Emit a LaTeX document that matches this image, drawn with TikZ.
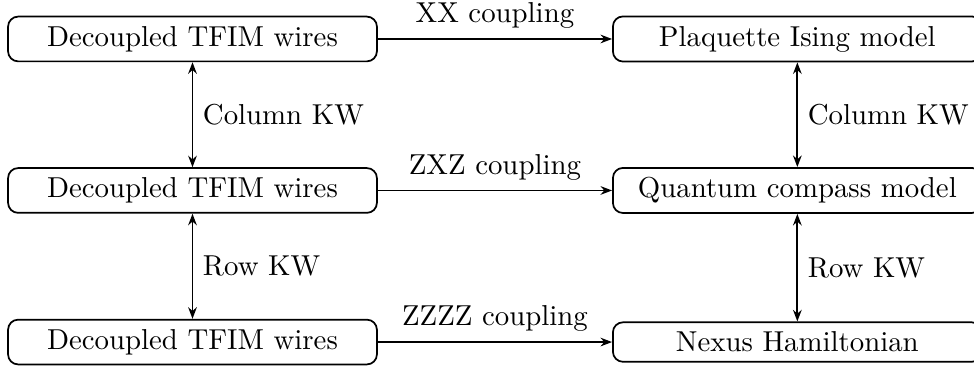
\documentclass[tikz,border=0pt]{standalone}
\usetikzlibrary{arrows.meta}
\begin{document}
\begin{tikzpicture}[x=1pt,y=1pt,
  box/.style={draw, semithick, rounded corners=3.5pt, minimum width=128pt, inner sep=3.33pt},
  conn/.style={semithick, -{Stealth[length=4pt,width=3pt]}},
  bconn/.style={semithick, {Stealth[length=4pt,width=3pt]}-{Stealth[length=4pt,width=3pt]}}]
\useasboundingbox (0,0) rectangle (338,-127.3);
\node[box] (l1) at (66.8,-13.53) {Decoupled TFIM wires};
\node[box] (l2) at (66.8,-66.1) {Decoupled TFIM wires};
\node[box] (l3) at (66.8,-118.7) {Decoupled TFIM wires};
\node[box] (r1) at (276.7,-13.53) {Plaquette Ising model};
\node[box] (r2) at (276.7,-66.1) {Quantum compass model};
\node[box] (r3) at (276.7,-118.7) {Nexus Hamiltonian};
\draw[conn] (l1.east) -- node[above] {XX coupling} (r1.west);
\draw[conn] (l2.east) -- node[above] {ZXZ coupling} (r2.west);
\draw[conn] (l3.east) -- node[above] {ZZZZ coupling} (r3.west);
\draw[bconn] (l1.south) -- node[right] {Column KW} (l2.north);
\draw[bconn] (l2.south) -- node[right] {Row KW} (l3.north);
\draw[bconn] (r1.south) -- node[right] {Column KW} (r2.north);
\draw[bconn] (r2.south) -- node[right] {Row KW} (r3.north);
\end{tikzpicture}
\end{document}
